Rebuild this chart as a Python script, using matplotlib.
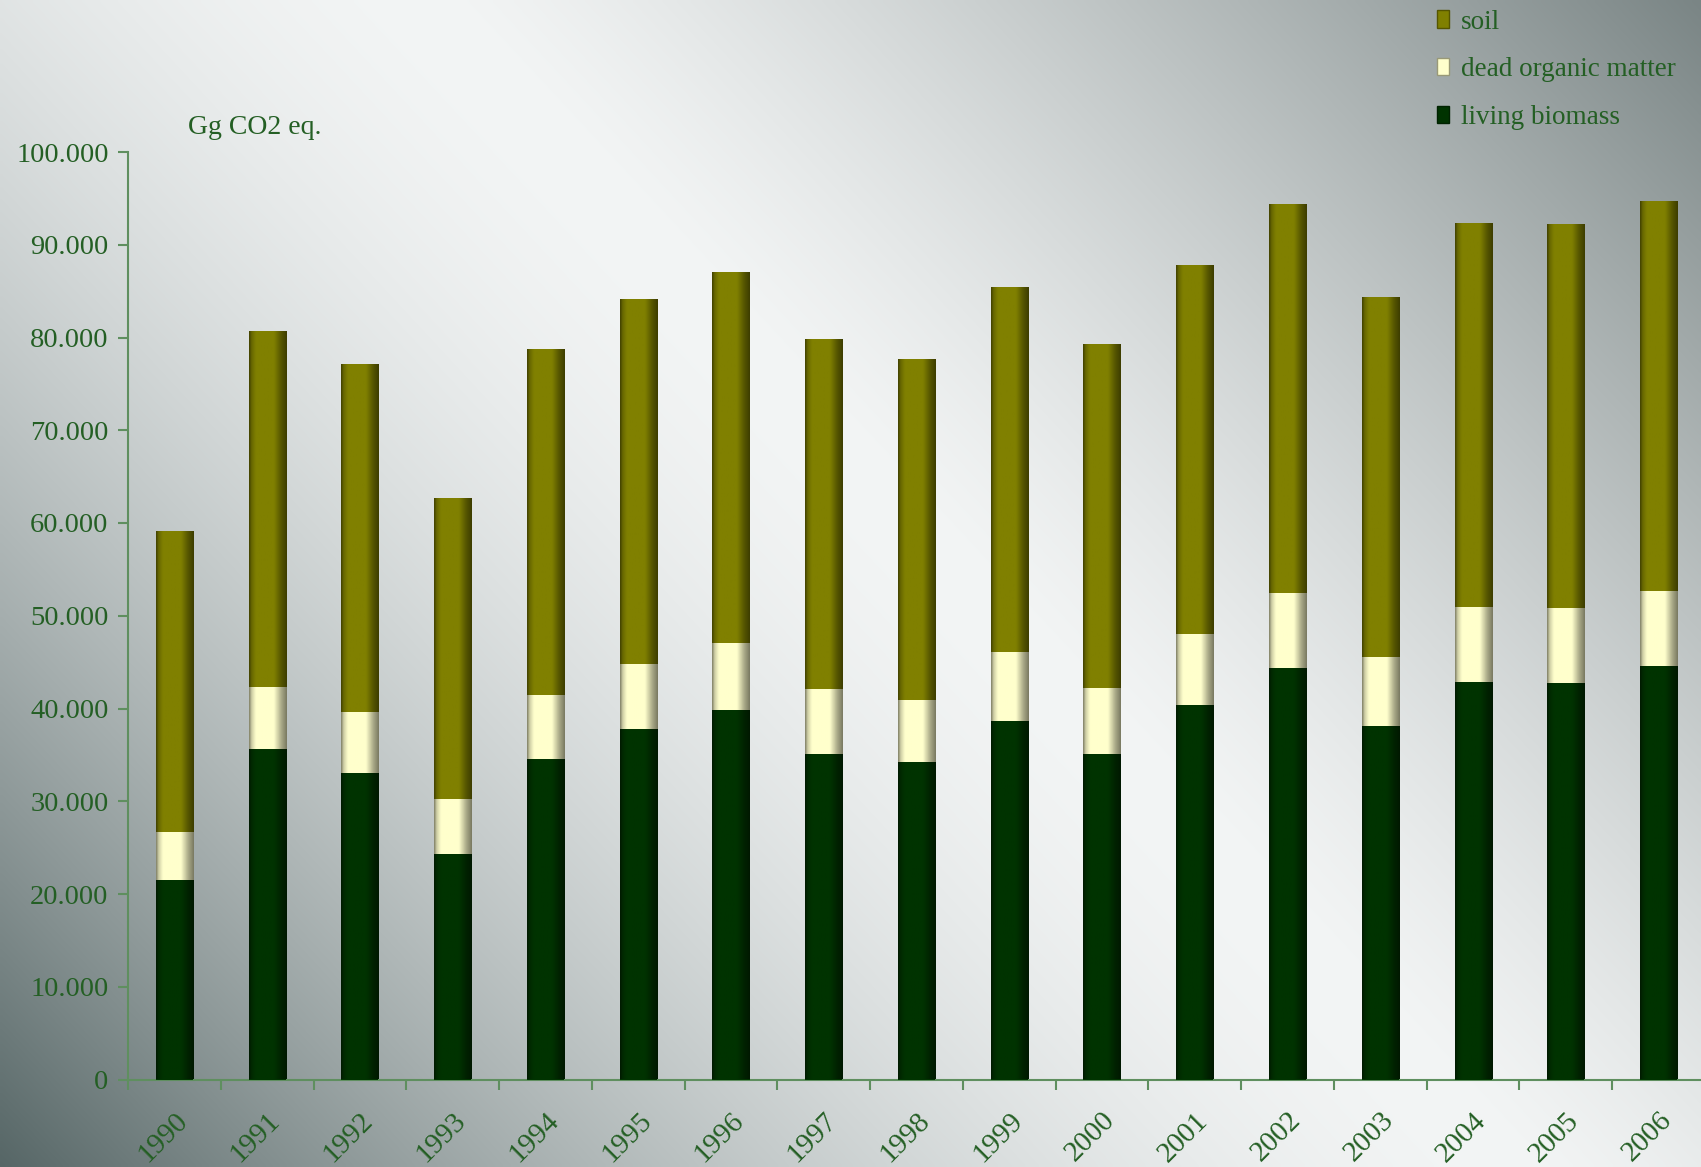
import numpy as np
import matplotlib
matplotlib.use("Agg")
import matplotlib.pyplot as plt
import matplotlib.colors as mcolors
from matplotlib.patches import Patch
from matplotlib.ticker import FuncFormatter, FixedLocator

years = [str(y) for y in range(1990, 2007)]

# Gg CO2 eq.
living_biomass = [21.5, 35.6, 33.0, 24.3, 34.6, 37.8, 39.8, 35.1, 34.2, 38.7, 35.1, 40.4, 44.4, 38.1, 42.9, 42.8, 44.6]
dead_organic_top = [26.7, 42.3, 39.6, 30.2, 41.5, 44.8, 47.1, 42.1, 40.9, 46.1, 42.2, 48.0, 52.5, 45.5, 50.9, 50.8, 52.7]
totals = [59.1, 80.7, 77.1, 62.7, 78.8, 84.2, 87.1, 79.8, 77.7, 85.4, 79.3, 87.8, 94.4, 84.4, 92.3, 92.2, 94.7]

living = np.array(living_biomass) * 1000
dead = (np.array(dead_organic_top) - np.array(living_biomass)) * 1000
soil = (np.array(totals) - np.array(dead_organic_top)) * 1000

c_living = "#003300"
c_dead = "#ffffcc"
c_soil = "#808000"
txt = "#245f24"
axis_col = "#5f8f5f"

plt.rcParams["font.family"] = ["Liberation Serif", "DejaVu Serif"]

W, H = 1701, 1167
fig = plt.figure(figsize=(W / 100, H / 100), dpi=100)

# background gradient: dark bottom-left and top-right, light band across
bg = fig.add_axes([0, 0, 1, 1], zorder=-10)
yy, xx = np.mgrid[0:H:4, 0:W:4]
u = (1076 * (xx / 1.085 - 400) - 1000 * (yy / 1.085)) / 1469.0
lo = np.array(mcolors.to_rgb("#566666"))
mid = np.array(mcolors.to_rgb("#f3f5f5"))
hi = np.array(mcolors.to_rgb("#7a8585"))
a = np.clip(-u / 1025.0, 0, 1)[..., None] ** 1.7
b = np.clip(u / 855.0, 0, 1)[..., None] ** 1.3
img = np.where(u[..., None] < 0, mid + (lo - mid) * a, mid + (hi - mid) * b)
bg.imshow(img, extent=(0, 1, 0, 1), aspect="auto", interpolation="bilinear")
bg.axis("off")

ax = fig.add_axes([128 / W, 87.5 / H, 1577 / W, 927.5 / H])
ax.patch.set_alpha(0)

x = np.arange(len(years))
bw = 0.40
b1 = ax.bar(x, living, bw, color=c_living, zorder=3)
b2 = ax.bar(x, dead, bw, bottom=living, color=c_dead, zorder=3)
b3 = ax.bar(x, soil, bw, bottom=living + dead, color=c_soil, zorder=3)


def shade(container, base):
    rgb = np.array(mcolors.to_rgb(base))
    t = np.linspace(0, 1, 64)
    prof = np.interp(t, [0, 0.07, 0.18, 0.66, 0.86, 1], [0.52, 0.82, 1.0, 1.0, 0.66, 0.48])
    im_arr = (prof[:, None] * rgb[None, :])[None, :, :]
    for rect in container:
        x0, y0 = rect.get_xy()
        w, h = rect.get_width(), rect.get_height()
        im = ax.imshow(im_arr, extent=(x0, x0 + w, y0, y0 + h), aspect="auto",
                       interpolation="bilinear", zorder=4)
        im.set_clip_path(rect)


shade(b1, c_living)
shade(b2, c_dead)
shade(b3, c_soil)

ax.set_xlim(-0.5, len(years) - 0.5)
ax.set_ylim(0, 100000)
ax.set_yticks(np.arange(0, 100001, 10000))
ax.yaxis.set_major_formatter(FuncFormatter(lambda v, p: f"{int(v):,}".replace(",", ".")))

ax.xaxis.set_major_locator(FixedLocator(np.arange(-0.5, len(years), 1.0)))
ax.xaxis.set_minor_locator(FixedLocator(x))
ax.set_xticklabels([])
ax.set_xticklabels(years, minor=True, rotation=45, ha="right", rotation_mode="anchor")
ax.tick_params(axis="x", which="minor", length=0, pad=20, labelsize=21, labelcolor=txt)
ax.tick_params(axis="x", which="major", length=7, width=1.5, color=axis_col, direction="out")
ax.tick_params(axis="y", length=7, width=1.5, color=axis_col, direction="out",
               labelsize=20.5, labelcolor=txt, pad=7)

for s in ["top", "right"]:
    ax.spines[s].set_visible(False)
for s in ["left", "bottom"]:
    ax.spines[s].set_color(axis_col)
    ax.spines[s].set_linewidth(1.5)

fig.text(188 / W, 1 - 128 / H, "Gg CO2 eq.", color=txt, fontsize=20, va="center", ha="left")

handles = [Patch(facecolor=c_soil, edgecolor="#555500", label="soil"),
           Patch(facecolor=c_dead, edgecolor="#999977", label="dead organic matter"),
           Patch(facecolor=c_living, edgecolor="#002200", label="living biomass")]
leg = fig.legend(handles=handles, loc="upper left", bbox_to_anchor=(1418 / W, 1.008),
                 frameon=False, fontsize=19.5, handlelength=0.45, handleheight=0.6,
                 handletextpad=0.45, labelspacing=0.84, borderpad=0.2)
for t in leg.get_texts():
    t.set_color(txt)

fig.savefig("out.png", dpi=100)
